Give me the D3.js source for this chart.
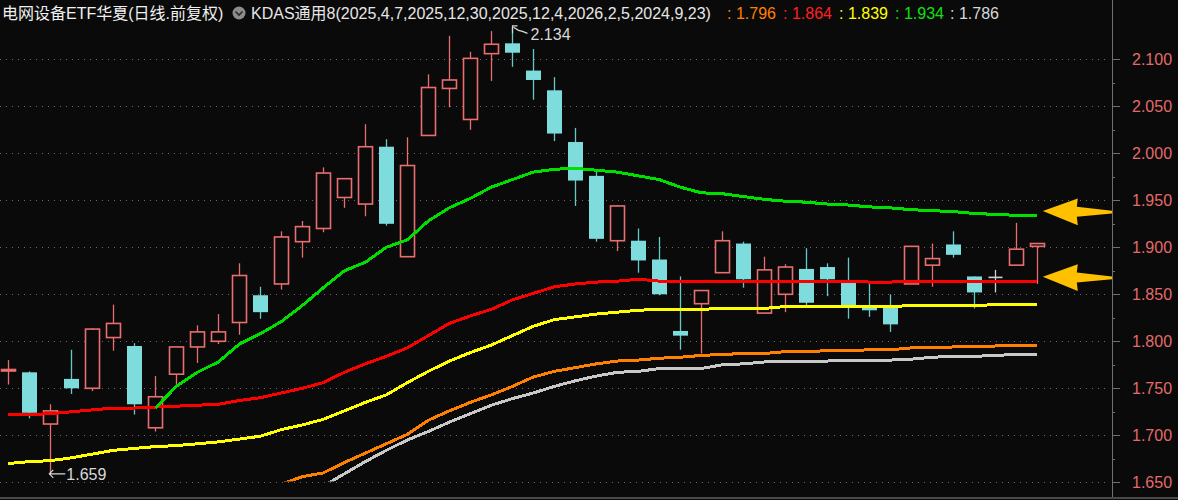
<!DOCTYPE html>
<html><head><meta charset="utf-8">
<script src="https://cdn.jsdelivr.net/npm/d3@7"></script>
<style>html,body{margin:0;padding:0;background:#0a0a0a;overflow:hidden}</style>
</head><body>
<svg id="c" width="1178" height="500"></svg>
<script>
// ---- data (daily candles, oldest -> newest) ----
const openP  = [1.769,1.767,1.712,1.760,1.750,1.804,1.795,1.708,1.765,1.794,1.800,1.820,1.849,1.861,1.906,1.920,1.953,1.946,2.007,1.890,2.019,2.069,2.036,2.106,2.117,2.088,2.067,2.012,1.976,1.907,1.907,1.887,1.811,1.840,1.873,1.904,1.830,1.850,1.877,1.879,1.862,1.837,1.836,1.861,1.881,1.903,1.869,1.868,1.881,1.901];
const highP  = [1.780,1.768,1.733,1.791,1.814,1.839,1.798,1.763,1.794,1.817,1.829,1.883,1.858,1.917,1.928,1.985,1.973,2.031,2.015,2.017,2.084,2.125,2.108,2.130,2.134,2.111,2.081,2.027,1.981,1.945,1.920,1.911,1.869,1.854,1.917,1.906,1.890,1.882,1.899,1.883,1.889,1.863,1.850,1.901,1.904,1.917,1.869,1.876,1.926,1.904];
const lowP   = [1.754,1.718,1.659,1.744,1.747,1.790,1.722,1.704,1.754,1.777,1.797,1.807,1.824,1.855,1.889,1.916,1.942,1.933,1.923,1.890,2.019,2.049,2.025,2.077,2.092,2.057,2.013,1.944,1.906,1.896,1.873,1.849,1.791,1.787,1.873,1.857,1.830,1.831,1.838,1.848,1.824,1.826,1.810,1.861,1.858,1.889,1.835,1.852,1.881,1.861];
const closeP = [1.770,1.724,1.726,1.750,1.813,1.819,1.733,1.741,1.794,1.810,1.810,1.870,1.831,1.911,1.922,1.979,1.973,2.007,1.925,1.987,2.070,2.078,2.101,2.116,2.107,2.078,2.021,1.971,1.909,1.944,1.886,1.850,1.806,1.854,1.907,1.866,1.876,1.879,1.841,1.866,1.838,1.833,1.818,1.901,1.888,1.892,1.852,1.868,1.898,1.904];

// ---- KDAS anchored lines (null = not started yet) ----
const kdasOrange = [null,null,null,null,null,null,null,null,null,null,null,null,null,1.648,1.656,1.660,1.671,1.681,1.691,1.701,1.716,1.726,1.735,1.743,1.752,1.762,1.768,1.772,1.776,1.779,1.780,1.782,1.783,1.785,1.786,1.787,1.787,1.789,1.789,1.790,1.790,1.791,1.791,1.793,1.793,1.794,1.794,1.795,1.796,1.796];
const kdasRed    = [1.722,1.722,1.723,1.725,1.727,1.729,1.729,1.730,1.731,1.732,1.733,1.737,1.740,1.745,1.750,1.756,1.767,1.776,1.784,1.793,1.806,1.819,1.827,1.834,1.844,1.851,1.858,1.861,1.863,1.864,1.866,1.864,1.864,1.864,1.864,1.864,1.864,1.864,1.864,1.864,1.864,1.863,1.863,1.864,1.864,1.864,1.864,1.864,1.864,1.864];
const kdasYellow = [1.670,1.672,1.673,1.676,1.680,1.684,1.686,1.688,1.689,1.691,1.693,1.696,1.699,1.706,1.711,1.717,1.726,1.735,1.743,1.756,1.768,1.779,1.788,1.796,1.806,1.816,1.823,1.826,1.829,1.831,1.833,1.834,1.834,1.834,1.835,1.835,1.835,1.837,1.837,1.837,1.837,1.837,1.837,1.838,1.838,1.838,1.838,1.839,1.839,1.839];
const kdasGreen  = [null,null,null,null,null,null,null,1.729,1.752,1.767,1.778,1.797,1.808,1.821,1.838,1.857,1.875,1.884,1.900,1.908,1.928,1.942,1.952,1.964,1.972,1.980,1.983,1.984,1.982,1.980,1.976,1.972,1.964,1.958,1.957,1.954,1.951,1.949,1.948,1.946,1.945,1.943,1.942,1.940,1.939,1.938,1.936,1.935,1.934,1.934];
const kdasGray   = [null,null,null,null,null,null,null,null,null,null,null,null,null,null,null,1.646,1.659,1.672,1.684,1.695,1.704,1.714,1.723,1.732,1.739,1.745,1.752,1.758,1.763,1.767,1.768,1.771,1.771,1.771,1.775,1.776,1.778,1.778,1.779,1.779,1.780,1.780,1.780,1.781,1.783,1.784,1.784,1.785,1.786,1.786];

const yTickLabels = ["2.100","2.050","2.000","1.950","1.900","1.850","1.800","1.750","1.700","1.650"];
const titleText = "电网设备ETF华夏(日线.前复权)";
const indicatorText = "KDAS通用8(2025,4,7,2025,12,30,2025,12,4,2026,2,5,2024,9,23)";

// ---- chart ----
const W = 1178, H = 500, axisX = 1112;
const FONT = "'Liberation Sans', Arial, 'Noto Sans CJK SC', sans-serif";
const C = {bg:"#0a0a0a", up:"#ea6e6e", down:"#7edcdc", downWick:"#68c8c8", flat:"#d0d0d0",
  orange:"#ff8000", red:"#ff0000", yellow:"#ffff00", green:"#00e000", gray:"#c8c8c8",
  axis:"#707070", grid:"#6a6a6a", label:"#e26a6a", arrow:"#ffc000"};

const svg = d3.select("#c");
svg.append("rect").attr("width", W).attr("height", H).attr("fill", C.bg);

const n = openP.length;
const idx = d3.range(n);
const yTickValues = yTickLabels.map(Number);
const x = d3.scalePoint().domain(idx).range([8.3, 1037.3]);
const y = d3.scaleLinear().domain([d3.min(yTickValues), d3.max(yTickValues)]).range([482.3, 59.3]);

// grid
svg.append("g").selectAll("line").data(yTickValues).join("line")
  .attr("x1", 0).attr("x2", axisX - 2)
  .attr("y1", d => Math.round(y(d)) + 0.5).attr("y2", d => Math.round(y(d)) + 0.5)
  .attr("stroke", C.grid).attr("stroke-width", 1).attr("stroke-dasharray", "1,5")
  .attr("shape-rendering", "crispEdges");

// axis
const minorVals = yTickValues.slice(1).map((v, i) => (v + yTickValues[i]) / 2);
const gAx = svg.append("g").attr("transform", `translate(${axisX},0)`);
gAx.call(d3.axisRight(y).tickValues(yTickValues).tickSize(8).tickPadding(12)
  .tickFormat((d, i) => yTickLabels[i]));
const gMin = svg.append("g").attr("transform", `translate(${axisX},0)`);
gMin.call(d3.axisRight(y).tickValues(minorVals).tickSize(3).tickFormat(""));
[gAx, gMin].forEach(g => {
  g.select(".domain").remove();
  g.selectAll("line").attr("stroke", C.axis).attr("shape-rendering", "crispEdges");
});
gAx.selectAll("text").attr("fill", C.label).attr("font-size", 16).attr("font-family", FONT);
svg.append("line").attr("x1", axisX + 0.5).attr("x2", axisX + 0.5).attr("y1", 0).attr("y2", 497)
  .attr("stroke", C.axis).attr("stroke-width", 1);
svg.append("rect").attr("x", 0).attr("y", 497).attr("width", W).attr("height", 2).attr("fill", "#4a4a4a");

// candles
const bw = 14;
const gC = svg.append("g");
idx.forEach(i => {
  const o = openP[i], c = closeP[i], h = highP[i], l = lowP[i];
  const cx = Math.round(x(i)) + 0.5;
  const top = y(Math.max(o, c)), bot = y(Math.min(o, c));
  if (c > o) {
    gC.append("line").attr("x1", cx).attr("x2", cx).attr("y1", y(h)).attr("y2", top)
      .attr("stroke", C.up).attr("stroke-width", 1.3);
    gC.append("line").attr("x1", cx).attr("x2", cx).attr("y1", bot).attr("y2", y(l))
      .attr("stroke", C.up).attr("stroke-width", 1.3);
    gC.append("rect").attr("x", cx - bw / 2).attr("y", top).attr("width", bw)
      .attr("height", Math.max(bot - top, 1.5))
      .attr("fill", C.bg).attr("stroke", C.up).attr("stroke-width", 1.6);
  } else if (c < o) {
    gC.append("line").attr("x1", cx).attr("x2", cx).attr("y1", y(h)).attr("y2", y(l))
      .attr("stroke", C.downWick).attr("stroke-width", 1.3);
    gC.append("rect").attr("x", cx - bw / 2 - 0.5).attr("y", top).attr("width", bw + 1)
      .attr("height", Math.max(bot - top, 1.5)).attr("fill", C.down);
  } else {
    gC.append("line").attr("x1", cx).attr("x2", cx).attr("y1", y(h)).attr("y2", y(l))
      .attr("stroke", C.flat).attr("stroke-width", 1.3);
    gC.append("line").attr("x1", cx - bw / 2).attr("x2", cx + bw / 2).attr("y1", top).attr("y2", top)
      .attr("stroke", C.flat).attr("stroke-width", 1.6);
  }
});

// KDAS lines
svg.append("clipPath").attr("id", "plotClip").append("rect")
  .attr("x", 0).attr("y", 20).attr("width", axisX).attr("height", 461.5);
const series = [
  {v: kdasGray, c: C.gray}, {v: kdasOrange, c: C.orange}, {v: kdasYellow, c: C.yellow},
  {v: kdasRed, c: C.red}, {v: kdasGreen, c: C.green}
];
const line = d3.line().defined(d => d != null).x((d, i) => x(i)).y(d => y(d));
const gL = svg.append("g").attr("clip-path", "url(#plotClip)");
series.forEach(s => {
  gL.append("path").attr("d", line(s.v)).attr("fill", "none").attr("stroke", s.c)
    .attr("stroke-width", 3).attr("shape-rendering", "crispEdges");
});

// high / low markers
const hi = d3.maxIndex(highP), lo = d3.minIndex(lowP);
const fmt = d3.format(".3f");
const hx = Math.round(x(hi)) + 0.5, hy = y(highP[hi]);
svg.append("path").attr("d", `M${hx},${hy + 6}V${hy - 1.5}H${hx + 5} M${hx + 1},${hy}L${hx + 6},${hy + 3}L${hx + 10},${hy + 4}L${hx + 15},${hy + 6}`)
  .attr("fill", "none").attr("stroke", "#d8d8d8").attr("stroke-width", 1.2);
svg.append("text").attr("x", hx + 18).attr("y", hy + 12.5).text(fmt(highP[hi]))
  .attr("fill", "#d8d8d8").attr("font-size", 16).attr("font-family", FONT);
const lx = x(lo) - 1, ly = y(lowP[lo]);
svg.append("path").attr("d", `M${lx + 16},${ly}H${lx} M${lx + 4},${ly - 4}L${lx},${ly}L${lx + 4},${ly + 4}`)
  .attr("fill", "none").attr("stroke", "#d8d8d8").attr("stroke-width", 1.2);
svg.append("text").attr("x", lx + 17).attr("y", ly + 6).text(fmt(lowP[lo]))
  .attr("fill", "#d8d8d8").attr("font-size", 16).attr("font-family", FONT);

// yellow arrows pointing at green & red lines' last values
const tipX = x(n - 1) + 5.5;
[kdasGreen[n - 1], kdasRed[n - 1]].forEach(v => {
  const ty = y(v) - 4.3;
  const pts = [[0,0],[35,-12.6],[34,-4.4],[axisX - tipX,-0.3],[axisX - tipX,2.5],[34,5.6],[35,14.2]];
  svg.append("path").attr("d", "M" + pts.map(p => `${tipX + p[0]},${ty + p[1]}`).join("L") + "Z")
    .attr("fill", C.arrow);
});

// header
svg.append("text").attr("x", 2).attr("y", 19).text(titleText)
  .attr("fill", "#f0f0f0").attr("font-size", 16).attr("font-family", FONT);
svg.append("circle").attr("cx", 239).attr("cy", 13).attr("r", 6.5).attr("fill", "#8c8c8c");
svg.append("path").attr("d", "M235.5,11.5L239,15L242.5,11.5").attr("fill", "none")
  .attr("stroke", "#2a2a2a").attr("stroke-width", 1.6);
svg.append("text").attr("x", 251).attr("y", 19).text(indicatorText)
  .attr("fill", "#e6e6e6").attr("font-size", 16).attr("font-family", FONT);
const headerVals = [
  {v: kdasOrange[n - 1], c: C.orange, x: 727},
  {v: kdasRed[n - 1], c: "#ff2020", x: 783},
  {v: kdasYellow[n - 1], c: C.yellow, x: 839},
  {v: kdasGreen[n - 1], c: "#10e010", x: 895},
  {v: kdasGray[n - 1], c: "#d8d8d8", x: 950}
];
headerVals.forEach(h => {
  svg.append("text").attr("x", h.x).attr("y", 19).text(": " + fmt(h.v))
    .attr("fill", h.c).attr("font-size", 16).attr("font-family", FONT);
});
</script>
</body></html>
